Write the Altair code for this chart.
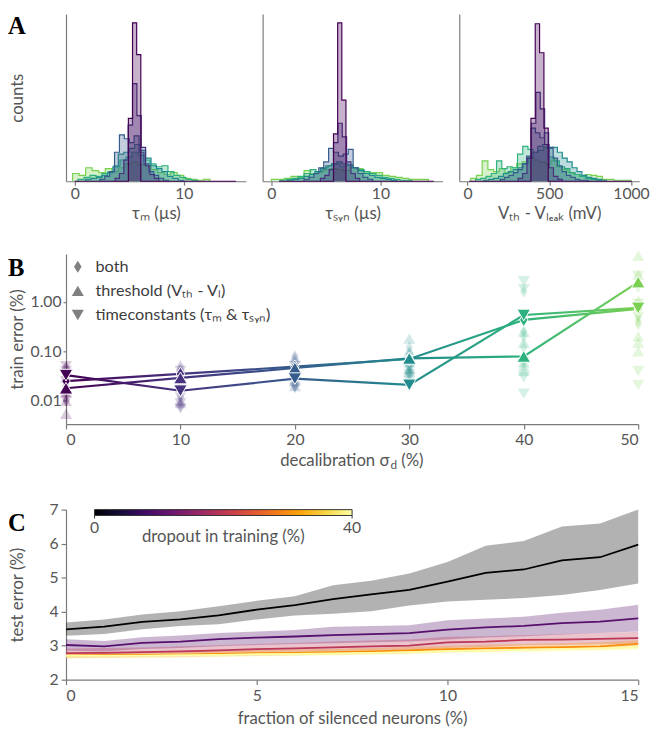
import altair as alt
import pandas as pd

FONT = "Lato"
TXT = "#555555"
LEG = "#3d3d3d"
AXC = "#7a7a7a"

# ---------------- Panel A: parameter histograms per decalibration level ----------------
SIGMAS = [0, 10, 20, 30, 40, 50]
VIRIDIS = ["#440154", "#46327e", "#365c8d", "#228b8d", "#2db27d", "#7ad151"]

# tau_m (us): bin start, bin width and counts for each decalibration level
TM_START = [4.92, 3.7, 2.3, 1.0, 0.3, -0.2]
TM_WIDTH = [0.38, 0.4, 0.45, 0.5, 0.55, 0.6]
TM_S0 = [65, 164, 131]
TM_S10 = [3, 8, 22, 58, 101, 68, 35, 16, 7, 3]
TM_S20 = [2, 5, 10, 30, 48, 44, 40, 47, 30, 18, 10, 6, 3, 1]
TM_S30 = [2, 3, 4, 6, 9, 15, 28, 30, 34, 38, 32, 24, 16, 13, 10, 5, 3, 1]
TM_S40 = [2, 4, 6, 5, 8, 10, 16, 22, 25, 30, 27, 22, 18, 15, 16, 10, 6, 4, 2, 1]
TM_S50 = [8, 6, 14, 11, 9, 13, 10, 14, 18, 20, 17, 16, 12, 9, 7, 9, 6, 3, 2, 1, 2]
TM_RANGE = [0.0, 14.8]

# tau_syn (us)
TS_START = [5.7, 4.5, 3.0, 1.5, 0.8, 0.0]
TS_WIDTH = [0.38, 0.4, 0.45, 0.5, 0.55, 0.6]
TS_S0 = [49, 164, 84]
TS_S10 = [3, 6, 12, 40, 60, 46, 20, 8, 3]
TS_S20 = [2, 4, 8, 14, 20, 34, 30, 26, 28, 33, 14, 8, 4, 2]
TS_S30 = [1, 2, 3, 5, 7, 10, 13, 16, 18, 20, 18, 17, 14, 11, 8, 6, 4, 3, 2, 1]
TS_S40 = [1, 2, 3, 5, 8, 12, 10, 14, 16, 18, 15, 16, 14, 12, 10, 8, 6, 4, 3, 2, 1, 1]
TS_S50 = [2, 2, 3, 5, 4, 11, 8, 10, 12, 13, 12, 11, 14, 13, 10, 9, 9, 6, 5, 4, 3, 2, 2, 2]
TS_RANGE = [0.7, 14.9]

# V_th - V_leak (mV)
VT_START = [388, 310, 200, 100, 50, 20]
VT_WIDTH = [26.5, 27, 27, 30, 32, 35]
VT_S0 = [65, 163, 133, 55]
VT_S10 = [3, 8, 24, 60, 92, 75, 38, 14, 5, 2]
VT_S20 = [2, 4, 6, 9, 12, 18, 26, 55, 50, 45, 50, 35, 24, 16, 10, 6, 4, 2, 1, 1]
VT_S30 = [1, 2, 3, 5, 8, 10, 12, 14, 18, 24, 30, 36, 38, 34, 35, 30, 24, 20, 14, 10, 6, 4, 3, 2, 1]
VT_S40 = [2, 3, 5, 8, 21, 13, 15, 14, 28, 36, 33, 30, 32, 35, 25, 21, 15, 13, 9, 7, 5, 3, 2, 1]
VT_S50 = [3, 6, 21, 12, 10, 13, 9, 14, 18, 20, 24, 22, 20, 18, 22, 15, 12, 9, 7, 5, 7, 6, 5, 2, 2, 1, 1, 1]
VT_RANGE = [10, 1005]

# ---------------- Panel B: train error vs decalibration ----------------
DECAL = [0, 10, 20, 30, 40, 50]
SERIES = ["both", "threshold", "timeconstants"]
BOTH_MED = [0.025, 0.035, 0.049, 0.070, 0.43, 0.72]
THRESH_MED = [0.018, 0.029, 0.046, 0.072, 0.079, 2.5]
TIME_MED = [0.033, 0.016, 0.028, 0.021, 0.54, 0.75]
BOTH_RUNS = [[0.045, 0.03, 0.02, 0.015, 0.01], [0.05, 0.04, 0.03, 0.012, 0.008],
             [0.08, 0.065, 0.04, 0.025, 0.02], [0.12, 0.09, 0.05, 0.04, 0.035],
             [1.6, 0.25, 0.2, 0.12, 0.08], [2.0, 1.0, 0.5, 0.4, 0.35]]
THRESH_RUNS = [[0.05, 0.03, 0.015, 0.01, 0.0055], [0.045, 0.035, 0.02, 0.01, 0.009],
               [0.075, 0.06, 0.035, 0.025, 0.02], [0.18, 0.1, 0.06, 0.045, 0.04],
               [0.25, 0.15, 0.06, 0.05, 0.04], [8.5, 3.5, 0.2, 0.15, 0.1]]
TIME_RUNS = [[0.05, 0.04, 0.025, 0.012, 0.01], [0.04, 0.02, 0.012, 0.009, 0.007],
             [0.05, 0.04, 0.025, 0.02, 0.018], [0.045, 0.035, 0.03, 0.025, 0.02],
             [2.6, 1.8, 0.06, 0.03, 0.014], [3.3, 0.9, 0.5, 0.04, 0.021]]

# ---------------- Panel C: test error vs silenced neurons ----------------
SILENCED = list(range(16))
DROPOUT = [0, 10, 20, 30, 40]
D0_MEAN = [3.48, 3.56, 3.70, 3.77, 3.89, 4.06, 4.19, 4.37, 4.51, 4.64, 4.88, 5.14, 5.24, 5.51, 5.60, 5.97]
D0_HI = [3.68, 3.77, 3.92, 4.01, 4.16, 4.32, 4.45, 4.78, 4.91, 5.12, 5.46, 5.94, 6.08, 6.50, 6.59, 7.0]
D0_LO = [3.29, 3.34, 3.48, 3.58, 3.63, 3.77, 3.89, 3.94, 4.01, 4.18, 4.30, 4.35, 4.40, 4.49, 4.64, 4.83]
D10_MEAN = [3.02, 2.98, 3.08, 3.12, 3.19, 3.24, 3.27, 3.31, 3.34, 3.37, 3.47, 3.54, 3.58, 3.66, 3.71, 3.80]
D10_HI = [3.19, 3.14, 3.25, 3.30, 3.37, 3.42, 3.46, 3.56, 3.58, 3.60, 3.75, 3.80, 3.85, 3.97, 4.06, 4.20]
D10_LO = [2.85, 2.83, 2.90, 2.93, 2.98, 3.02, 3.05, 3.07, 3.10, 3.12, 3.18, 3.24, 3.28, 3.33, 3.37, 3.42]
D20_MEAN = [2.78, 2.79, 2.81, 2.83, 2.86, 2.90, 2.92, 2.95, 2.98, 3.00, 3.10, 3.12, 3.17, 3.18, 3.20, 3.22]
D20_HI = [2.92, 2.93, 2.95, 2.98, 3.01, 3.05, 3.08, 3.12, 3.15, 3.18, 3.26, 3.28, 3.31, 3.34, 3.37, 3.41]
D20_LO = [2.66, 2.67, 2.69, 2.71, 2.73, 2.76, 2.78, 2.80, 2.83, 2.85, 2.93, 2.96, 3.01, 3.02, 3.04, 3.06]
D30_MEAN = [2.71, 2.72, 2.73, 2.74, 2.76, 2.78, 2.79, 2.81, 2.83, 2.86, 2.90, 2.92, 2.94, 2.96, 2.98, 3.05]
D30_HI = [2.80, 2.81, 2.82, 2.83, 2.85, 2.87, 2.89, 2.91, 2.93, 2.96, 3.00, 3.03, 3.05, 3.07, 3.10, 3.16]
D30_LO = [2.63, 2.64, 2.65, 2.66, 2.68, 2.70, 2.71, 2.73, 2.75, 2.77, 2.81, 2.83, 2.85, 2.87, 2.89, 2.95]
D40_MEAN = [2.70, 2.70, 2.71, 2.72, 2.73, 2.75, 2.76, 2.77, 2.79, 2.81, 2.84, 2.86, 2.88, 2.90, 2.92, 2.95]
D40_HI = [2.76, 2.76, 2.77, 2.78, 2.80, 2.82, 2.83, 2.85, 2.87, 2.89, 2.92, 2.94, 2.96, 2.98, 3.01, 3.03]
D40_LO = [2.63, 2.63, 2.64, 2.65, 2.66, 2.68, 2.69, 2.70, 2.72, 2.74, 2.77, 2.78, 2.80, 2.82, 2.84, 2.87]

# colour bar (dropout in training, 0 .. 40 %)
CBAR_TICKS = ["0", "40"]
INFERNO = ["#000004", "#160b39", "#420a68", "#6a176e", "#932667", "#bc3754",
           "#dd513a", "#f37819", "#fca50a", "#f6d746", "#fcffa4"]

DIAMOND = "M0,-1L0.62,0L0,1L-0.62,0Z"


def letter(ch, y):
    return alt.Chart(pd.DataFrame({"t": [ch]})).mark_text(
        font="Liberation Serif", fontSize=25, fontWeight="bold", align="left",
        baseline="alphabetic", color="black"
    ).encode(x=alt.value(-59), y=alt.value(y), text="t:N")


def hist_panel(starts, widths, counts, rng, dom, ticks, title, first):
    xs = alt.Scale(domain=dom, nice=False, zero=False)
    ys = alt.Scale(domain=[0, 173], nice=False)
    col_scale = alt.Scale(domain=SIGMAS, range=VIRIDIS)
    xaxis = alt.Axis(values=ticks, title=title, tickSize=4, labelPadding=1, titlePadding=4, format="d")
    if first:
        yaxis = alt.Axis(labels=False, ticks=False, title="counts", titleX=-40)
    else:
        yaxis = alt.Axis(labels=False, ticks=False, title=None)
    layers = []
    # widest distribution drawn first, narrowest (sigma 0) on top
    for k in reversed(range(len(counts))):
        s, w, c = starts[k], widths[k], counts[k]
        sig = SIGMAS[k]
        edges = [s + w * i for i in range(len(c) + 1)]
        heights = list(c) + [0]
        area_df = pd.DataFrame({"sigma": sig, "x": edges, "y": heights})
        pts = [(edges[0], 0)] + list(zip(edges, heights))
        if k == 0:
            pts = [(rng[0], 0)] + pts + [(rng[1], 0)]
        line_df = pd.DataFrame({"sigma": sig, "x": [p[0] for p in pts], "y": [p[1] for p in pts],
                                "i": list(range(len(pts)))})
        col = alt.Color("sigma:O", scale=col_scale, legend=None)
        layers.append(alt.Chart(area_df).mark_area(interpolate="step-after", opacity=0.3).encode(
            x=alt.X("x:Q", scale=xs, axis=xaxis),
            y=alt.Y("y:Q", stack=None, scale=ys, axis=yaxis),
            color=col,
        ))
        layers.append(alt.Chart(line_df).mark_line(interpolate="step-after", strokeWidth=1.2).encode(
            x=alt.X("x:Q", scale=xs, axis=xaxis),
            y=alt.Y("y:Q", scale=ys, axis=yaxis),
            color=col,
            order="i:Q",
        ))
    if first:
        layers.append(letter("A", 20))
    return alt.layer(*layers).properties(width=183, height=170)


A1 = hist_panel(TM_START, TM_WIDTH, [TM_S0, TM_S10, TM_S20, TM_S30, TM_S40, TM_S50],
                TM_RANGE, [-0.8, 15.7], [0, 10], "τₘ (µs)", True)
A2 = hist_panel(TS_START, TS_WIDTH, [TS_S0, TS_S10, TS_S20, TS_S30, TS_S40, TS_S50],
                TS_RANGE, [-0.8, 15.7], [0, 10], "τₛᵧₙ (µs)", False)
A3 = hist_panel(VT_START, VT_WIDTH, [VT_S0, VT_S10, VT_S20, VT_S30, VT_S40, VT_S50],
                VT_RANGE, [-50, 1050], [0, 500, 1000], "Vₜₕ - Vₗₑₐₖ (mV)", False)

# ---------------- Panel B ----------------
med_rows, run_rows = [], []
for name, med, runs in zip(SERIES, [BOTH_MED, THRESH_MED, TIME_MED], [BOTH_RUNS, THRESH_RUNS, TIME_RUNS]):
    for x, m, rr in zip(DECAL, med, runs):
        med_rows.append({"series": name, "x": x, "y": m})
        for r in rr:
            run_rows.append({"series": name, "x": x, "y": r})
med_df = pd.DataFrame(med_rows)
run_df = pd.DataFrame(run_rows)

bx = alt.Scale(domain=[0, 50], nice=False)
by = alt.Scale(type="log", domain=[0.0034, 9.2], nice=False)
bxa = alt.Axis(values=DECAL, title=None, tickSize=5, labelPadding=3)
bya = alt.Axis(values=[0.01, 0.1, 1], format=".2f", title="train error (%)", titleX=-40,
               tickSize=3, labelPadding=2, labelOverlap=False)
shape_sc = alt.Shape("series:N", scale=alt.Scale(domain=SERIES, range=[DIAMOND, "triangle-up", "triangle-down"]), legend=None)
fill_sc = alt.Fill("x:O", scale=alt.Scale(domain=DECAL, range=VIRIDIS), legend=None)

b_runs = alt.Chart(run_df).mark_point(filled=True, size=150, opacity=0.2, strokeWidth=0).encode(
    x=alt.X("x:Q", scale=bx, axis=bxa), y=alt.Y("y:Q", scale=by, axis=bya),
    shape=shape_sc, fill=fill_sc,
)
grad = alt.Gradient(gradient="linear", x1=0, x2=1, y1=0, y2=0,
                    stops=[alt.GradientStop(offset=i / 5, color=c) for i, c in enumerate(VIRIDIS)])
b_halo = alt.Chart(med_df).mark_line(color="white", strokeWidth=4.5).encode(
    x=alt.X("x:Q", scale=bx, axis=bxa), y=alt.Y("y:Q", scale=by, axis=bya), detail="series:N")
b_line = alt.Chart(med_df).mark_line(color=grad, strokeWidth=2.2).encode(
    x=alt.X("x:Q", scale=bx, axis=bxa), y=alt.Y("y:Q", scale=by, axis=bya), detail="series:N")
b_med = alt.Chart(med_df).mark_point(filled=True, size=190, opacity=1, stroke="white", strokeWidth=1).encode(
    x=alt.X("x:Q", scale=bx, axis=bxa), y=alt.Y("y:Q", scale=by, axis=bya), shape=shape_sc, fill=fill_sc)

LEGEND_TEXT = ["both", "threshold (Vₜₕ - Vₗ)", "timeconstants (τₘ & τₛᵧₙ)"]
LEGEND_SHAPE = [DIAMOND, "triangle-up", "triangle-down"]
leg_layers = []
for i, (t, s) in enumerate(zip(LEGEND_TEXT, LEGEND_SHAPE)):
    ypos = 13 + 24.5 * i
    d = pd.DataFrame({"t": [t]})
    leg_layers.append(alt.Chart(d).mark_point(filled=True, shape=s, size=150, color="#7f7f7f", opacity=1).encode(
        x=alt.value(12), y=alt.value(ypos)))
    leg_layers.append(alt.Chart(d).mark_text(align="left", baseline="middle", fontSize=16.5, color=LEG, font=FONT).encode(
        x=alt.value(30), y=alt.value(ypos), text="t:N"))

XT_ANCHOR = 329
XT_Y = 211
xt1 = alt.Chart(pd.DataFrame({"t": ["decalibration σ"]})).mark_text(
    align="right", baseline="middle", fontSize=17, color=TXT, font=FONT).encode(
    x=alt.value(XT_ANCHOR), y=alt.value(XT_Y), text="t:N")
xt2 = alt.Chart(pd.DataFrame({"t": ["d"]})).mark_text(
    align="left", baseline="middle", fontSize=12, color=TXT, font=FONT).encode(
    x=alt.value(XT_ANCHOR + 1), y=alt.value(XT_Y + 4), text="t:N")
xt3 = alt.Chart(pd.DataFrame({"t": ["(%)"]})).mark_text(
    align="left", baseline="middle", fontSize=17, color=TXT, font=FONT).encode(
    x=alt.value(XT_ANCHOR + 12), y=alt.value(XT_Y), text="t:N")

B = alt.layer(b_runs, b_halo, b_line, b_med, *leg_layers, xt1, xt2, xt3, letter("B", 22)).properties(width=582, height=173)

# ---------------- Panel C ----------------
c_rows = []
for dp, mean, lo, hi in zip(DROPOUT, [D0_MEAN, D10_MEAN, D20_MEAN, D30_MEAN, D40_MEAN],
                            [D0_LO, D10_LO, D20_LO, D30_LO, D40_LO], [D0_HI, D10_HI, D20_HI, D30_HI, D40_HI]):
    for x, m, l, h in zip(SILENCED, mean, lo, hi):
        c_rows.append({"dropout": dp, "x": x, "mean": m, "lo": l, "hi": h})
c_df = pd.DataFrame(c_rows)
cx = alt.Scale(domain=[0, 15], nice=False)
cy = alt.Scale(domain=[2, 7], nice=False)
cxa = alt.Axis(values=[0, 5, 10, 15], title="fraction of silenced neurons (%)",
               tickSize=5, labelPadding=3, titlePadding=8)
cya = alt.Axis(values=[2, 3, 4, 5, 6, 7], title="test error (%)", titleX=-40,
               tickSize=5, labelPadding=3, labelOverlap=False)
inferno = alt.Scale(scheme="inferno", domain=[0, 40])

c_band = alt.Chart(c_df).mark_area(opacity=0.3).encode(
    x=alt.X("x:Q", scale=cx, axis=cxa),
    y=alt.Y("lo:Q", scale=cy, axis=cya),
    y2="hi:Q",
    color=alt.Color("dropout:Q", scale=inferno, legend=None),
    detail="dropout:N",
)
c_line = alt.Chart(c_df).mark_line(strokeWidth=1.8).encode(
    x=alt.X("x:Q", scale=cx, axis=cxa),
    y=alt.Y("mean:Q", scale=cy, axis=cya),
    color=alt.Color("dropout:Q", scale=inferno, legend=None),
    detail="dropout:N",
)

# colour bar drawn as a gradient-filled rectangle
CB_X0, CB_X1 = 29, 291
inf_grad = alt.Gradient(gradient="linear", x1=0, x2=1, y1=0, y2=0,
                        stops=[alt.GradientStop(offset=i / 10, color=c) for i, c in enumerate(INFERNO)])
one = pd.DataFrame({"t": ["dropout in training (%)"]})
cb_rect = alt.Chart(one).mark_rect(fill=inf_grad, stroke="#333333", strokeWidth=1).encode(
    x=alt.value(CB_X0), x2=alt.value(CB_X1), y=alt.value(0), y2=alt.value(6))
cb_ticks = [alt.Chart(one).mark_rule(color="#333333", strokeWidth=1).encode(
    x=alt.value(px), y=alt.value(6), y2=alt.value(9)) for px in (CB_X0, CB_X1)]
cb_labels = [alt.Chart(pd.DataFrame({"t": [lab]})).mark_text(
    align="center", baseline="middle", fontSize=16, color=TXT, font=FONT).encode(
    x=alt.value(px), y=alt.value(19), text="t:N") for lab, px in zip(CBAR_TICKS, (CB_X0, CB_X1))]
cb_title = alt.Chart(one).mark_text(align="center", baseline="middle", fontSize=17, color=TXT, font=FONT).encode(
    x=alt.value((CB_X0 + CB_X1) / 2), y=alt.value(28), text="t:N")

C = alt.layer(c_band, c_line, cb_rect, *cb_ticks, *cb_labels, cb_title, letter("C", 22)).properties(width=582, height=173)

top = alt.hconcat(A1, A2, A3, spacing=17)
bottom = alt.vconcat(alt.hconcat(B), alt.hconcat(C), spacing=31)
chart = alt.vconcat(top, bottom, spacing=29).properties(
    padding={"left": 0, "top": 0, "right": 0, "bottom": 0}
).configure(font=FONT).configure_view(stroke=None).configure_axis(
    grid=False, labelFont=FONT, titleFont=FONT, labelFontSize=16, titleFontSize=17,
    labelColor=TXT, titleColor=TXT, titleFontWeight="normal", domainColor=AXC, tickColor=AXC,
    domainWidth=1.2, tickWidth=1.2
)

chart.save("out.html", embed_options={"renderer": "svg", "actions": False})
